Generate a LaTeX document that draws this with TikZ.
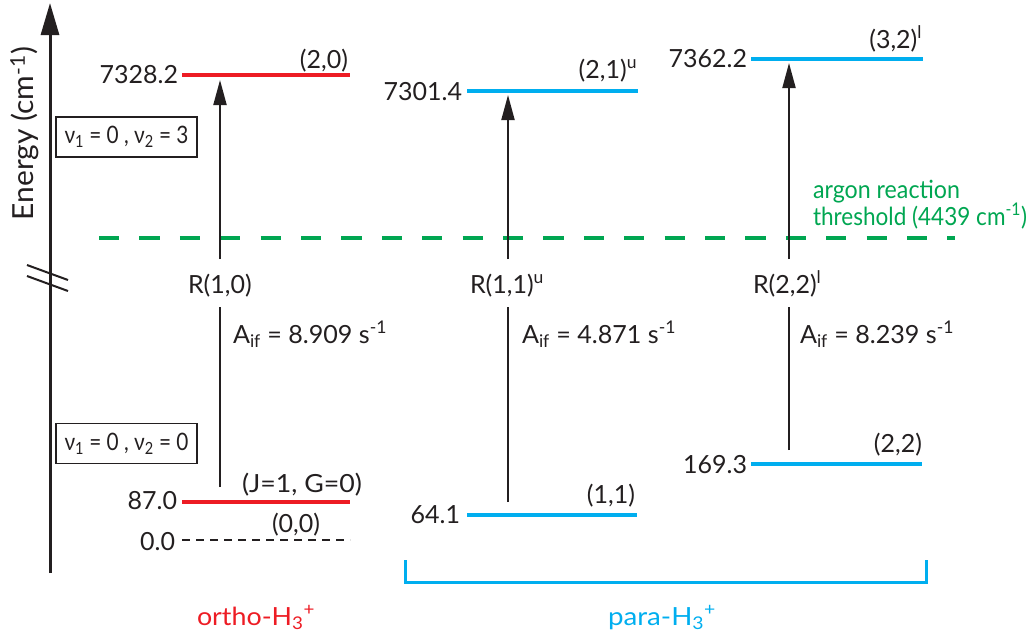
\documentclass[tikz,border=0pt]{standalone}
\usepackage{fontspec}
\usepackage{graphicx}
\setmainfont{Lato}
\usetikzlibrary{arrows.meta}
\definecolor{ored}{RGB}{237,28,36}
\definecolor{pblue}{RGB}{0,174,239}
\definecolor{tgreen}{RGB}{0,166,81}
\definecolor{ink}{RGB}{35,31,32}
\newcommand{\fitw}[2]{\resizebox{#1}{\height}{#2}}
\begin{document}
\begin{tikzpicture}[x=1pt,y=-1pt,
  every node/.style={inner sep=0pt, outer sep=0pt, text=ink},
  font=\fontsize{25}{30}\selectfont,
  lvl/.style={line width=4pt},
  trans/.style={draw=ink, line width=2pt},
  uptip/.style={-{Triangle[length=25pt,width=13pt]}},
  lab/.style={anchor=base east},
  qbox/.style={draw=ink, line width=1.5pt, minimum width=141pt, minimum height=40pt, font=\fontsize{24}{28}\selectfont}]
\useasboundingbox (0,0) rectangle (1032,641);
% axis
\coordinate (axb) at (50,573);
\coordinate (axt) at (50,3);
\draw[ink, line width=3pt, -{Triangle[length=32pt,width=18pt]}] (axb) -- (axt);
\draw[ink, line width=2pt] (27,265) -- (68,280);
\draw[ink, line width=2pt] (27,276) -- (68,291);
\node[rotate=90, anchor=base west, font=\fontsize{29}{34}\selectfont] (elab) at (34,220) {\fitw{173pt}{Energy (cm\textsuperscript{-1})}};
% vibrational boxes
\node[qbox] (box3) at (126.5,137) {\fitw{124pt}{ν\textsubscript{1} = 0 , ν\textsubscript{2} = 3}};
\node[qbox] (box0) at (126.5,443.5) {\fitw{124pt}{ν\textsubscript{1} = 0 , ν\textsubscript{2} = 0}};
% upper levels
\coordinate (o20L) at (182,75); \coordinate (o20R) at (350,75);
\coordinate (p21L) at (467,90.5); \coordinate (p21R) at (638,90.5);
\coordinate (p32L) at (751,59); \coordinate (p32R) at (923,59);
\draw[lvl, ored] (o20L) -- (o20R);
\draw[lvl, pblue] (p21L) -- (p21R);
\draw[lvl, pblue] (p32L) -- (p32R);
\node[lab] (e20) at (178,83) {7328.2};
\node[lab] (q20) at (348,68) {(2,0)};
\node[lab] (e21) at (462,100) {7301.4};
\node[lab] (q21) at (637,78) {(2,1)\textsuperscript{u}};
\node[lab] (e32) at (747,67) {7362.2};
\node[lab] (q32) at (922,48) {(3,2)\textsuperscript{l}};
% threshold
\coordinate (thL) at (99,238); \coordinate (thR) at (955,238);
\draw[tgreen, line width=4pt, dash pattern=on 20.2pt off 20.2pt] (thL) -- (thR);
\node[anchor=base west, text=tgreen] (th1) at (813,198) {\fitw{147pt}{argon reaction}};
\node[anchor=base west, text=tgreen] (th2) at (813,225) {\fitw{214pt}{threshold (4439 cm\textsuperscript{-1})}};
% lower levels
\coordinate (o10L) at (182,502); \coordinate (o10R) at (350,502);
\coordinate (o00L) at (182,540); \coordinate (o00R) at (350,540);
\coordinate (p11L) at (467,515); \coordinate (p11R) at (637,515);
\coordinate (p22L) at (751,464); \coordinate (p22R) at (922,464);
\draw[lvl, ored] (o10L) -- (o10R);
\draw[ink, line width=2.5pt, dash pattern=on 8pt off 6pt] (o00L) -- (o00R);
\draw[lvl, pblue] (p11L) -- (p11R);
\draw[lvl, pblue] (p22L) -- (p22R);
\node[lab] (e10) at (177,509) {87.0};
\node[lab] (q10) at (362,492) {\fitw{120pt}{(J=1, G=0)}};
\node[lab] (e00) at (175,550) {0.0};
\node[anchor=base west] (q00) at (272,532) {(0,0)};
\node[lab] (e11) at (460,523) {64.1};
\node[lab] (q11) at (635,503) {(1,1)};
\node[lab] (e22) at (747,473) {169.3};
\node[lab] (q22) at (922,452) {(2,2)};
% transitions
\node[anchor=base west] (r10) at (188,293) {R(1,0)};
\node[anchor=base west] (r11) at (470,293) {R(1,1)\textsuperscript{u}};
\node[anchor=base west] (r22) at (753,293) {R(2,2)\textsuperscript{l}};
\node[anchor=base west] (a10) at (233,343) {\fitw{154pt}{A\textsubscript{if} = 8.909 s\textsuperscript{-1}}};
\node[anchor=base west] (a11) at (522,343) {\fitw{154pt}{A\textsubscript{if} = 4.871 s\textsuperscript{-1}}};
\node[anchor=base west] (a22) at (800,343) {\fitw{154pt}{A\textsubscript{if} = 8.239 s\textsuperscript{-1}}};
\coordinate (t1s) at (220,487); \coordinate (t1m) at (220,307);
\coordinate (t1n) at (220,259); \coordinate (t1t) at (220,80);
\coordinate (t2s) at (508,502); \coordinate (t2m) at (508,307);
\coordinate (t2n) at (508,259); \coordinate (t2t) at (508,95);
\coordinate (t3s) at (789,450); \coordinate (t3m) at (789,307);
\coordinate (t3n) at (789,259); \coordinate (t3t) at (789,63);
\draw[trans] (t1s) -- (t1m);
\draw[trans, uptip] (t1n) -- (t1t);
\draw[trans] (t2s) -- (t2m);
\draw[trans, uptip] (t2n) -- (t2t);
\draw[trans] (t3s) -- (t3m);
\draw[trans, uptip] (t3n) -- (t3t);
% species
\coordinate (brL) at (405,560); \coordinate (brR) at (926,560);
\draw[pblue, line width=3pt] (brL) |- (brR |- 0,582) -- (brR);
\node[anchor=base west, text=ored] (ortho) at (197,625) {\fitw{118pt}{ortho-H\textsubscript{3}\textsuperscript{+}}};
\node[anchor=base, text=pblue] (para) at (662,625) {\fitw{108pt}{para-H\textsubscript{3}\textsuperscript{+}}};
\end{tikzpicture}
\end{document}
